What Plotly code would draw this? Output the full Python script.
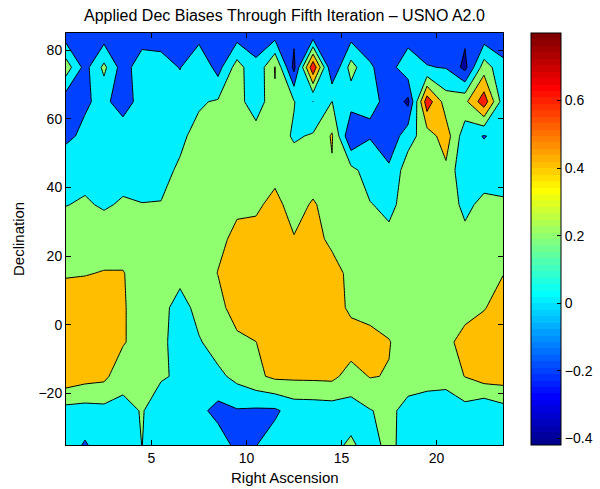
import plotly.graph_objects as go

# Right Ascension grid (hours) and Declination grid (deg)
ra = [0.5, 1.5, 2.5, 3.5, 4.5, 5.5, 6.5, 7.5, 8.5, 9.5, 10.5, 11.5,
      12.5, 13.5, 14.5, 15.5, 16.5, 17.5, 18.5, 19.5, 20.5, 21.5, 22.5, 23.5]
dec_top_down = [85, 75, 65, 55, 45, 35, 25, 15, 5, -5, -15, -25, -35]

# Applied Dec bias values, one list per declination row (top row first)
bias_dec_p85 = [-0.13, -0.12, -0.12, -0.15, -0.12, -0.12, -0.14, -0.09, -0.14, -0.11, -0.10, -0.11,
                -0.15, -0.175, -0.15, -0.10, -0.10, -0.12, -0.10, -0.12, -0.12, -0.15, -0.15, -0.15]
bias_dec_p75 = [0.31, -0.07, 0.248, -0.10, 0.13, 0.10, -0.01, 0.18, -0.08, 0.29, 0.04, 0.41,
                -0.26, 0.76, -0.19, 0.28, 0.02, -0.08, 0.13, 0.01, -0.01, -0.26, 0.305, 0.06]
bias_dec_p65 = [-0.13, -0.03, 0.06, -0.12, 0.10, 0.10, 0.12, 0.18, 0.22, 0.30, 0.05, 0.38,
                0.21, -0.002, 0.202, 0.08, 0.01, -0.01, -0.25, 0.72, 0.30, 0.35, 0.72, 0.10]
bias_dec_p55 = [-0.05, 0.05, 0.10, 0.15, 0.12, 0.12, 0.17, 0.25, 0.30, 0.30, 0.32, 0.30,
                0.175, 0.22, 0.42, -0.19, -0.01, -0.15, 0.12, 0.30, 0.50, 0.08, -0.01, 0.06]
bias_dec_p45 = [0.16, 0.146, 0.12, 0.137, 0.12, 0.16, 0.22, 0.28, 0.30, 0.32, 0.34, 0.345,
                0.30, 0.30, 0.38, 0.26, 0.10, 0.04, 0.30, 0.30, 0.36, 0.02, 0.10, 0.10]
bias_dec_p35 = [0.195, 0.22, 0.18, 0.22, 0.205, 0.205, 0.28, 0.30, 0.30, 0.37, 0.37, 0.45,
                0.33, 0.42, 0.32, 0.30, 0.211, 0.15, 0.28, 0.30, 0.30, 0.154, 0.25, 0.23]
bias_dec_p25 = [0.30, 0.30, 0.30, 0.30, 0.30, 0.30, 0.30, 0.32, 0.36, 0.44, 0.46, 0.50,
                0.41, 0.46, 0.36, 0.30, 0.30, 0.25, 0.30, 0.30, 0.30, 0.25, 0.30, 0.30]
bias_dec_p15 = [0.38, 0.39, 0.41, 0.41, 0.30, 0.28, 0.28, 0.30, 0.405, 0.50, 0.55, 0.55,
                0.55, 0.52, 0.47, 0.353, 0.30, 0.30, 0.30, 0.30, 0.30, 0.30, 0.32, 0.395]
bias_dec_p05 = [0.52, 0.52, 0.50, 0.42, 0.30, 0.28, 0.10, 0.28, 0.33, 0.50, 0.55, 0.55,
                0.55, 0.55, 0.50, 0.357, 0.294, 0.30, 0.30, 0.30, 0.30, 0.33, 0.39, 0.47]
bias_dec_m05 = [0.52, 0.50, 0.48, 0.42, 0.30, 0.28, 0.05, 0.18, 0.30, 0.35, 0.398, 0.50,
                0.55, 0.55, 0.50, 0.505, 0.50, 0.41, 0.30, 0.30, 0.35, 0.47, 0.50, 0.55]
bias_dec_m15 = [0.539, 0.48, 0.45, 0.26, 0.25, 0.215, 0.18, 0.10, 0.15, 0.26, 0.36, 0.44,
                0.44, 0.443, 0.45, 0.317, 0.41, 0.39, 0.30, 0.30, 0.30, 0.405, 0.50, 0.50]
bias_dec_m25 = [0.131, 0.12, 0.14, 0.149, 0.21, 0.12, 0.10, 0.05, -0.06, -0.015, -0.03, -0.03,
                0.08, 0.086, 0.10, 0.12, 0.19, 0.25, 0.128, 0.07, 0.04, 0.128, 0.03, 0.12]
bias_dec_m35 = [0.10, -0.02, 0.10, 0.10, 0.202, 0.10, 0.10, 0.10, 0.10, -0.05, -0.005, 0.08,
                0.10, 0.10, 0.15, 0.23, 0.12, 0.26, 0.10, 0.10, 0.10, 0.10, 0.05, 0.10]

rows_top_down = [bias_dec_p85, bias_dec_p75, bias_dec_p65, bias_dec_p55, bias_dec_p45,
                 bias_dec_p35, bias_dec_p25, bias_dec_p15, bias_dec_p05, bias_dec_m05,
                 bias_dec_m15, bias_dec_m25, bias_dec_m35]

xticks = [5, 10, 15, 20]
yticks = [-20, 0, 20, 40, 60, 80]
cb_ticks = [-0.4, -0.2, 0, 0.2, 0.4, 0.6]
cb_min, cb_max = -0.42, 0.80

# ascending order for plotly
dec = dec_top_down[::-1]
z = rows_top_down[::-1]


def matlab_jet(m=64):
    n = -(-m // 4)
    u = [i / n for i in range(1, n + 1)] + [1.0] * (n - 1) + [i / n for i in range(n, 0, -1)]
    off = -(-n // 2) - (1 if m % 4 == 1 else 0)
    cols = [[0.0, 0.0, 0.0] for _ in range(m)]
    for k, val in enumerate(u):
        g = off + k + 1
        r = g + n
        b = g - n
        if 1 <= r <= m:
            cols[r - 1][0] = val
        if 1 <= g <= m:
            cols[g - 1][1] = val
        if 1 <= b <= m:
            cols[b - 1][2] = val
    return ['rgb(%d,%d,%d)' % tuple(round(c * 255) for c in col) for col in cols]


jet = matlab_jet(64)
jet_steps = []
for i, c in enumerate(jet):
    jet_steps.append([i / 64, c])
    jet_steps.append([(i + 1) / 64, c])

band_colors = [[0.0, '#00009F'], [0.2, '#0040FF'], [0.4, '#00EFFF'],
               [0.6, '#8FFF70'], [0.8, '#FFBF00'], [1.0, '#FF2000']]

font_family = 'Liberation Sans, Arial, Helvetica, sans-serif'

fig = go.Figure()
fig.add_trace(go.Contour(
    x=ra, y=dec, z=z,
    colorscale=band_colors,
    autocontour=False,
    contours=dict(start=-0.2, end=0.6, size=0.2, coloring='fill', showlines=True),
    line=dict(color='black', width=1, smoothing=0),
    showscale=False,
    hoverinfo='skip',
))

fig.add_trace(go.Scatter(
    x=[None], y=[None], mode='markers', showlegend=False, hoverinfo='skip',
    marker=dict(color=[cb_min], cmin=cb_min, cmax=cb_max, colorscale=jet_steps,
                showscale=True,
                colorbar=dict(x=(531 - 66) / 437, xanchor='left', xpad=0,
                              y=0.5, yanchor='middle', ypad=0, len=1, lenmode='fraction',
                              thickness=30, thicknessmode='pixels',
                              outlinewidth=1, outlinecolor='black',
                              tickvals=cb_ticks, ticks='inside', ticklen=4,
                              tickcolor='black',
                              tickfont=dict(family=font_family, size=14, color='black'))),
))

axis_common = dict(showline=True, linecolor='black', linewidth=1, mirror='allticks',
                   ticks='inside', ticklen=5, tickcolor='black', showgrid=False,
                   zeroline=False,
                   tickfont=dict(family=font_family, size=14, color='black'))

fig.update_layout(
    width=600, height=489,
    margin=dict(l=66, r=97, t=33, b=44, autoexpand=False),
    paper_bgcolor='white', plot_bgcolor='white',
    xaxis=dict(range=[0.5, 23.5], tickvals=xticks, automargin=False, **axis_common),
    yaxis=dict(range=[-35, 85], tickvals=yticks, automargin=False, **axis_common),
    showlegend=False,
    font=dict(family=font_family, color='black'),
    annotations=[
        dict(text='Applied Dec Biases Through Fifth Iteration \u2013 USNO A2.0',
             xref='paper', yref='paper', x=0.5, y=(445 - 15) / 412,
             xanchor='center', yanchor='middle', showarrow=False,
             font=dict(family=font_family, size=16, color='black')),
        dict(text='Right Ascension', xref='paper', yref='paper',
             x=0.5, y=(445 - 477) / 412, xanchor='center', yanchor='middle',
             showarrow=False, font=dict(family=font_family, size=15, color='black')),
        dict(text='Declination', xref='paper', yref='paper',
             x=(18 - 66) / 437, y=0.5, xanchor='center', yanchor='middle',
             textangle=-90, showarrow=False,
             font=dict(family=font_family, size=15, color='black')),
    ],
)

fig.write_html('out.html')
